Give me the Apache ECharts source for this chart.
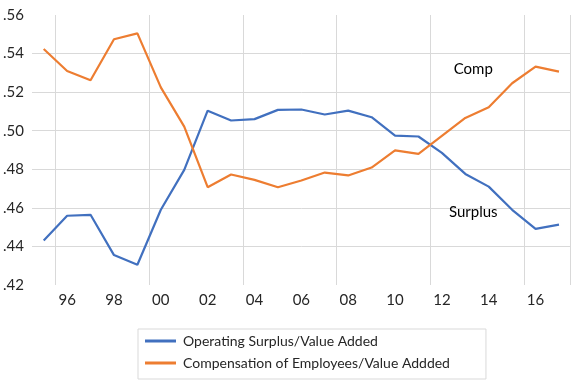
<!DOCTYPE html>
<html>
<head>
<meta charset="utf-8">
<script src="https://cdn.jsdelivr.net/npm/echarts@6/dist/echarts.min.js"></script>
<style>html,body{margin:0;padding:0;background:#fff;}#c{width:575px;height:381px;}</style>
</head>
<body>
<div id="c"></div>
<script>
const years = ['1995','1996','1997','1998','1999','2000','2001','2002','2003','2004','2005','2006','2007','2008','2009','2010','2011','2012','2013','2014','2015','2016','2017'];
const surplus = [0.4431,0.4559,0.4564,0.4355,0.4305,0.459,0.4797,0.5104,0.5053,0.506,0.5108,0.511,0.5084,0.5104,0.507,0.4975,0.497,0.4885,0.4776,0.471,0.459,0.4491,0.4513];
const comp = [0.5424,0.531,0.5262,0.5474,0.5505,0.5225,0.5021,0.4707,0.4773,0.4745,0.4707,0.4742,0.4783,0.4768,0.4809,0.4898,0.488,0.4973,0.5066,0.5122,0.5246,0.5332,0.5306];
const yTicks = [0.42,0.44,0.46,0.48,0.50,0.52,0.54,0.56];
const seriesNames = ['Operating Surplus/Value Added','Compensation of Employees/Value Addded'];
const annotations = [{text:'Comp', x:'2013', y:0.532},{text:'Surplus', x:'2013', y:0.458}];

const FONT = 'Lato';
function annot(a) {
  return {
    symbol: 'circle', symbolSize: 1,
    itemStyle: {color: 'rgba(0,0,0,0)'},
    label: {show: true, position: 'inside', formatter: a.text, color: '#000', fontSize: 15, fontFamily: FONT, offset: [8, 0]},
    data: [{coord: [a.x, a.y], value: a.text}]
  };
}
const chart = echarts.init(document.getElementById('c'));
chart.setOption({
  animation: false,
  textStyle: {fontFamily: FONT},
  grid: {left: 30, right: 4.3, top: 15, bottom: 96, containLabel: false},
  xAxis: {
    type: 'category',
    data: years,
    boundaryGap: true,
    axisLine: {show: false},
    axisTick: {show: false},
    axisLabel: {
      interval: (i) => i % 2 === 1,
      formatter: (v) => v.slice(2),
      color: '#262626', fontSize: 15, fontFamily: FONT, margin: 8
    },
    splitLine: {show: true, interval: (i) => i % 4 === 1, lineStyle: {color: '#d9d9d9', width: 1}}
  },
  yAxis: {
    type: 'value',
    min: yTicks[0], max: yTicks[yTicks.length-1], interval: 0.02,
    axisLine: {show: false},
    axisTick: {show: false},
    axisLabel: {
      formatter: (v) => v.toFixed(2).replace(/^0/, ''),
      color: '#262626', fontSize: 15, fontFamily: FONT, align: 'left', margin: 29
    },
    splitLine: {show: true, showMinLine: false, showMaxLine: false, lineStyle: {color: '#d9d9d9', width: 1}}
  },
  legend: {
    orient: 'vertical',
    left: 138, top: 329,
    data: seriesNames,
    icon: 'rect',
    itemWidth: 31, itemHeight: 3,
    itemGap: 6,
    padding: [4, 36, 8, 7],
    borderColor: '#d9d9d9', borderWidth: 1,
    textStyle: {fontSize: 14, color: '#262626', fontFamily: FONT, lineHeight: 16, padding: [0,0,0,2]}
  },
  series: [
    {
      name: seriesNames[0], type: 'line', data: surplus, symbol: 'none',
      lineStyle: {color: '#4170BF', width: 2.2}, itemStyle: {color: '#4170BF'},
      markPoint: annot(annotations[1])
    },
    {
      name: seriesNames[1], type: 'line', data: comp, symbol: 'none',
      lineStyle: {color: '#ED7D31', width: 2.2}, itemStyle: {color: '#ED7D31'},
      markPoint: annot(annotations[0])
    }
  ]
});
</script>
</body>
</html>
